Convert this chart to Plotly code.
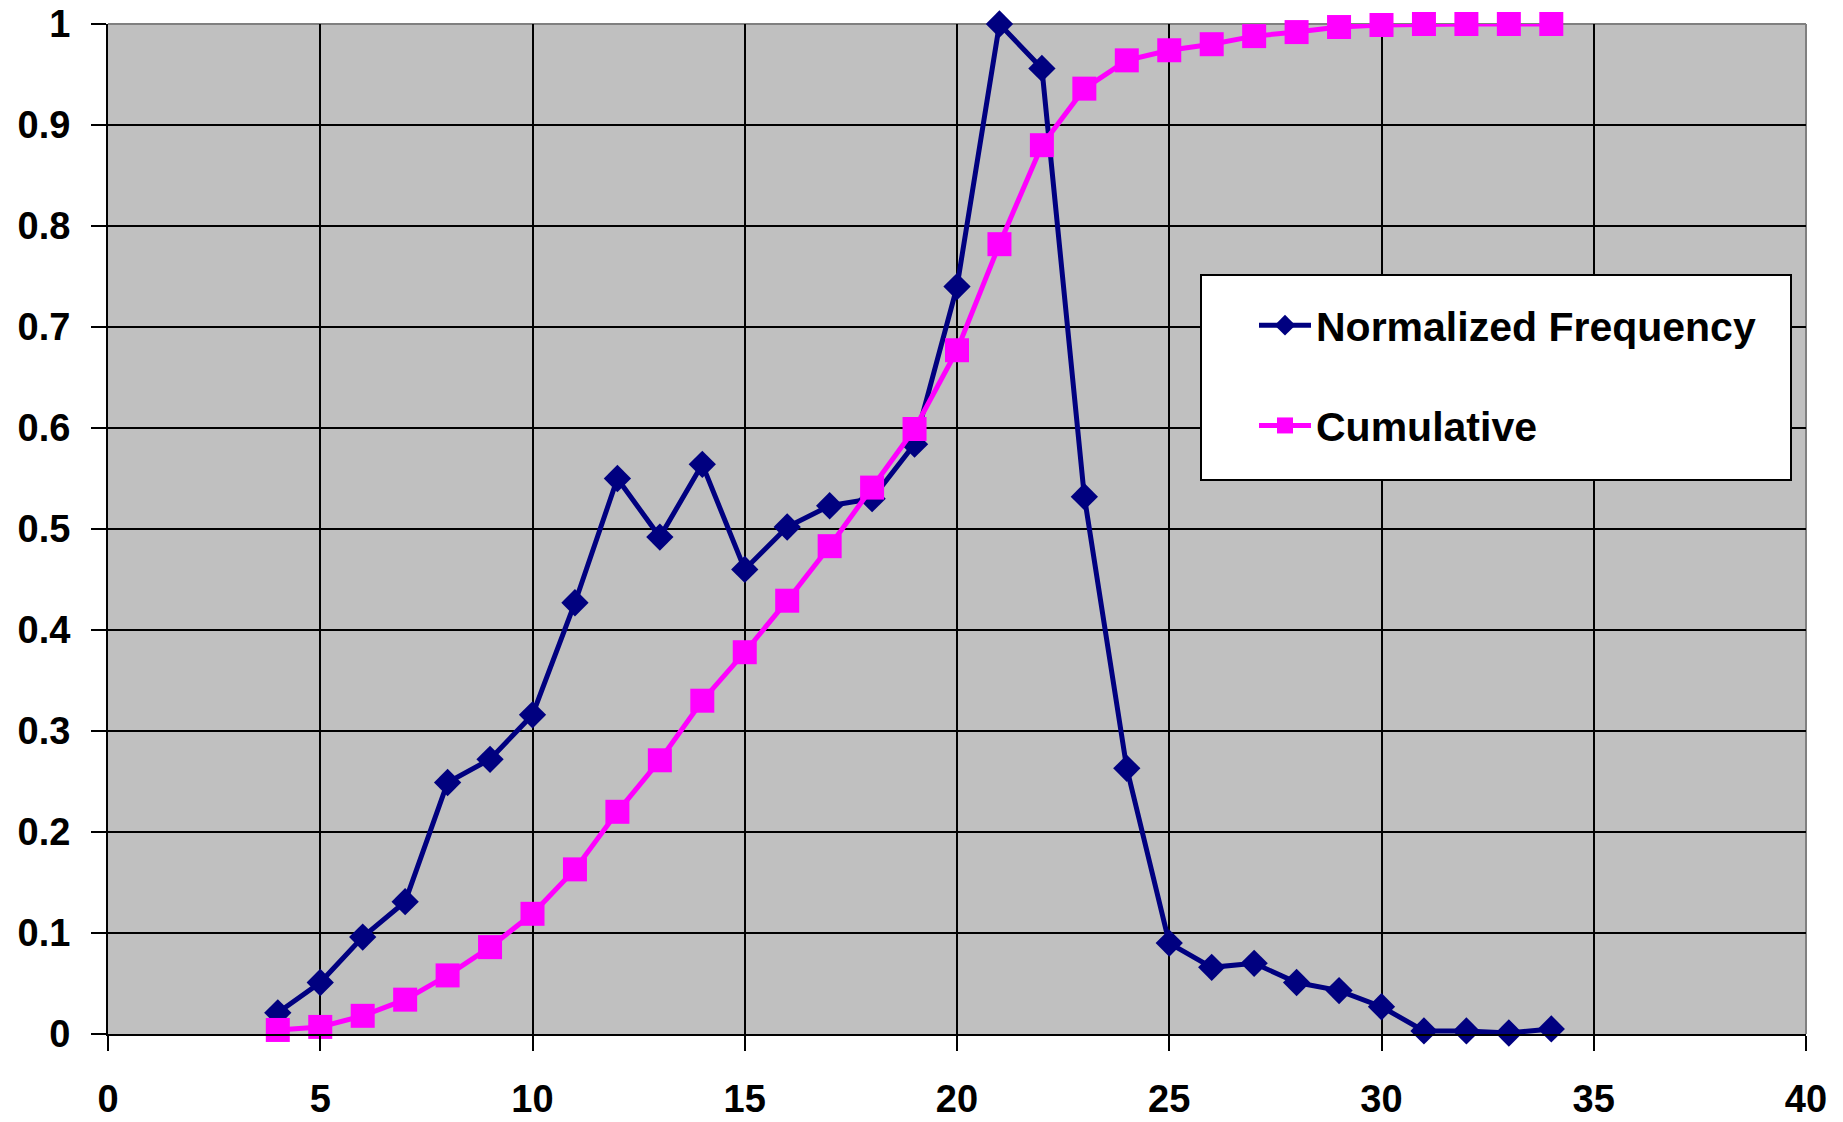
import plotly.graph_objects as go

# ---- data ----
x_values = list(range(4, 35))
normalized_frequency = [
    0.021, 0.051, 0.096, 0.131, 0.249, 0.272, 0.316, 0.427, 0.550, 0.492,
    0.564, 0.460, 0.502, 0.523, 0.530, 0.584, 0.740, 1.000, 0.956, 0.532,
    0.263, 0.090, 0.066, 0.070, 0.051, 0.043, 0.027, 0.003, 0.003, 0.001,
    0.005,
]
cumulative = [
    0.004, 0.007, 0.018, 0.034, 0.058, 0.086, 0.119, 0.163, 0.220, 0.271,
    0.330, 0.378, 0.429, 0.483, 0.541, 0.599, 0.677, 0.782, 0.880, 0.936,
    0.964, 0.974, 0.980, 0.988, 0.992, 0.997, 0.999, 1.000, 1.000, 1.000,
    1.000,
]
series_names = ["Normalized Frequency", "Cumulative"]
x_ticks = [0, 5, 10, 15, 20, 25, 30, 35, 40]
y_ticks = [0, 0.1, 0.2, 0.3, 0.4, 0.5, 0.6, 0.7, 0.8, 0.9, 1]
y_tick_text = ["0", "0.1", "0.2", "0.3", "0.4", "0.5", "0.6", "0.7", "0.8", "0.9", "1"]

NAVY = "#000080"
MAGENTA = "#FF00FF"
FONT = "Liberation Sans"

fig = go.Figure()
fig.add_trace(go.Scatter(
    x=x_values, y=normalized_frequency, name=series_names[0],
    mode="lines+markers", legendgroup="a",
    line=dict(color=NAVY, width=5),
    marker=dict(symbol="diamond", size=21, color=NAVY),
    cliponaxis=False,
))
fig.add_trace(go.Scatter(
    x=x_values, y=cumulative, name=series_names[1],
    mode="lines+markers", legendgroup="b",
    line=dict(color=MAGENTA, width=5),
    marker=dict(symbol="square", size=24, color=MAGENTA),
    cliponaxis=False,
))

W, H = 1843, 1122
ml, mr, mt, mb = 108, 37, 24, 88
pw, ph = W - ml - mr, H - mt - mb


def px_x(p):
    return (p - ml) / pw


def px_y(p):
    return (H - mb - p) / ph


tickfont = dict(family=FONT, size=38, color="black", weight="bold")

fig.update_layout(
    width=W, height=H,
    margin=dict(l=ml, r=mr, t=mt, b=mb, pad=0, autoexpand=False),
    paper_bgcolor="white",
    plot_bgcolor="#C0C0C0",
    showlegend=True,
    legend=dict(
        x=px_x(1254), y=px_y(292), xanchor="left", yanchor="top",
        bgcolor="rgba(0,0,0,0)", borderwidth=0,
        font=dict(family=FONT, size=41, color="black", weight="bold"),
        tracegroupgap=44, itemwidth=52, traceorder="grouped",
    ),
    xaxis=dict(
        range=[0, 40], tickvals=x_ticks, ticktext=[str(v) for v in x_ticks],
        showgrid=True, gridcolor="black", gridwidth=2,
        showline=True, linecolor="black", linewidth=2,
        ticks="outside", ticklen=15, tickwidth=2, tickcolor="black",
        tickfont=tickfont, zeroline=False, ticklabelstandoff=15,
        automargin=False,
    ),
    yaxis=dict(
        range=[0, 1], tickvals=y_ticks, ticktext=y_tick_text,
        showgrid=True, gridcolor="black", gridwidth=2,
        showline=True, linecolor="black", linewidth=2,
        ticks="outside", ticklen=15, tickwidth=2, tickcolor="black",
        tickfont=tickfont, zeroline=False, ticklabelstandoff=13,
        automargin=False,
    ),
    shapes=[
        dict(type="line", xref="paper", yref="paper", x0=0, x1=1, y0=1, y1=1,
             line=dict(color="#808080", width=2), layer="between"),
        dict(type="line", xref="paper", yref="paper", x0=1, x1=1, y0=0, y1=1,
             line=dict(color="#808080", width=2), layer="between"),
        dict(type="rect", xref="paper", yref="paper",
             x0=px_x(1201), x1=px_x(1791), y0=px_y(480), y1=px_y(275),
             fillcolor="white", line=dict(color="black", width=2), layer="above"),
    ],
)

fig.write_html("out.html")
